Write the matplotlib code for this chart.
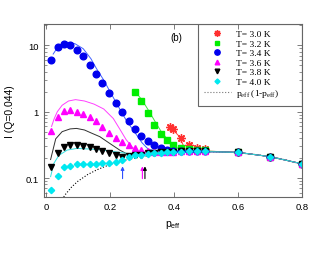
import matplotlib
matplotlib.use("Agg")
import matplotlib.pyplot as plt
from matplotlib.patches import Rectangle

# p_eff grid of the measured points
p = [0.016, 0.036, 0.056, 0.076, 0.096, 0.116, 0.136, 0.156, 0.176, 0.197,
     0.218, 0.238, 0.258, 0.278, 0.298, 0.319, 0.338, 0.358, 0.378, 0.398,
     0.423, 0.448, 0.473, 0.498, 0.6, 0.7, 0.8]

# T = 3.0 K
p_30 = [0.388, 0.398, 0.423, 0.448, 0.473, 0.498, 0.6, 0.7, 0.8]
i_30 = [0.58, 0.55, 0.40, 0.315, 0.285, 0.277, 0.244, 0.21, 0.164]
# T = 3.2 K
p_32 = [0.278, 0.298, 0.319, 0.338, 0.358, 0.378, 0.398, 0.423, 0.448,
        0.473, 0.498, 0.6, 0.7, 0.8]
i_32 = [2.0, 1.46, 0.94, 0.63, 0.46, 0.37, 0.31, 0.285, 0.273, 0.268,
        0.262, 0.244, 0.21, 0.164]
# T = 3.4 K
i_34 = [5.95, 9.4, 10.6, 10.2, 8.4, 6.9, 5.1, 3.7, 2.7, 1.9, 1.37, 1.0,
        0.73, 0.545, 0.434, 0.36, 0.313, 0.286, 0.267, 0.258, 0.255, 0.255,
        0.255, 0.255, 0.244, 0.21, 0.164]
# T = 3.6 K
i_36 = [0.51, 0.84, 1.03, 1.05, 1.0, 0.92, 0.82, 0.72, 0.59, 0.47, 0.40,
        0.35, 0.31, 0.28, 0.264, 0.255, 0.25, 0.25, 0.25, 0.25, 0.252, 0.252,
        0.252, 0.252, 0.244, 0.21, 0.164]
# T = 3.8 K
i_38 = [0.145, 0.235, 0.295, 0.315, 0.315, 0.30, 0.29, 0.27, 0.255, 0.24,
        0.22, 0.21, 0.215, 0.22, 0.225, 0.235, 0.24, 0.245, 0.248, 0.25,
        0.252, 0.252, 0.252, 0.252, 0.244, 0.21, 0.164]
# T = 4.0 K
i_40 = [0.065, 0.107, 0.145, 0.154, 0.161, 0.161, 0.161, 0.161, 0.166, 0.17,
        0.177, 0.19, 0.21, 0.22, 0.225, 0.23, 0.235, 0.24, 0.245, 0.248,
        0.25, 0.252, 0.252, 0.252, 0.244, 0.21, 0.164]

# fitted curves
fx_30 = [0.39, 0.415, 0.435, 0.46, 0.5, 0.6, 0.7, 0.8]
fy_30 = [0.58, 0.43, 0.27, 0.262, 0.255, 0.244, 0.21, 0.164]
fx_32 = [0.279, 0.3, 0.32, 0.34, 0.36, 0.38, 0.4, 0.42, 0.45, 0.5, 0.6, 0.7, 0.8]
fy_32 = [2.0, 1.5, 1.05, 0.72, 0.5, 0.38, 0.3, 0.27, 0.26, 0.255, 0.244, 0.21, 0.164]
fx_34 = [0.022, 0.04, 0.064, 0.09, 0.116, 0.14, 0.157, 0.18, 0.2, 0.23,
         0.25, 0.272, 0.3, 0.32, 0.36, 0.4, 0.5, 0.6, 0.7, 0.8]
fy_34 = [7.4, 10.0, 11.2, 10.6, 8.9, 6.3, 4.5, 3.0, 2.0, 1.1, 0.75, 0.53,
         0.34, 0.27, 0.25, 0.25, 0.25, 0.244, 0.21, 0.164]
fx_36 = [0.017, 0.025, 0.035, 0.05, 0.07, 0.092, 0.12, 0.15, 0.18, 0.21,
         0.23, 0.25, 0.27, 0.29, 0.32, 0.4, 0.5, 0.6, 0.7, 0.8]
fy_36 = [0.6, 0.78, 1.0, 1.25, 1.45, 1.52, 1.45, 1.3, 1.1, 0.79, 0.55, 0.38,
         0.29, 0.25, 0.245, 0.25, 0.25, 0.244, 0.21, 0.164]
fx_38 = [0.014, 0.03, 0.05, 0.075, 0.095, 0.12, 0.14, 0.168, 0.2, 0.23,
         0.25, 0.3, 0.35, 0.4, 0.5, 0.6, 0.7, 0.8]
fy_38 = [0.19, 0.39, 0.50, 0.55, 0.56, 0.53, 0.48, 0.42, 0.33, 0.264,
         0.235, 0.23, 0.24, 0.25, 0.25, 0.244, 0.21, 0.164]
fx_40 = [0.014, 0.024, 0.04, 0.066, 0.097, 0.139, 0.18, 0.23, 0.27, 0.3,
         0.35, 0.4, 0.5, 0.6, 0.7, 0.8]
fy_40 = [0.105, 0.166, 0.22, 0.264, 0.28, 0.273, 0.264, 0.243, 0.23, 0.232,
         0.24, 0.248, 0.25, 0.244, 0.21, 0.164]

# p_eff (1 - p_eff)
px_dot = [0.05, 0.06, 0.08, 0.1, 0.13, 0.16, 0.2, 0.25, 0.3, 0.35, 0.4,
          0.45, 0.5, 0.55, 0.6, 0.65, 0.7, 0.75, 0.8]
py_dot = [0.0475, 0.0564, 0.0736, 0.09, 0.113, 0.134, 0.16, 0.1875, 0.21,
          0.2275, 0.24, 0.2475, 0.25, 0.2475, 0.24, 0.2275, 0.21, 0.1875, 0.16]

# arrows (x position, colour)
arrow_x = [0.239, 0.301, 0.309]
arrow_c = ['#3050ff', '#ff00ff', 'black']

plt.rcParams['font.family'] = ['Liberation Sans', 'DejaVu Sans']

fig = plt.figure(figsize=(3.3, 2.55), dpi=100)
ax = fig.add_axes([0.133, 0.224, 0.782, 0.678])

ax.plot(px_dot, py_dot, ':', color='black', lw=0.8)

ax.plot(fx_30, fy_30, '-', color='#ff4040', lw=0.7)
ax.plot(fx_32, fy_32, '-', color='#40e040', lw=0.7)
ax.plot(fx_34, fy_34, '-', color='#4060ff', lw=0.7)
ax.plot(fx_36, fy_36, '-', color='#ff40ff', lw=0.7)
ax.plot(fx_38, fy_38, '-', color='#303030', lw=0.7)
ax.plot(fx_40, fy_40, '-', color='#30e0e0', lw=0.7)

ax.plot(p_30, i_30, ls='none', marker=(8, 2, 0), ms=6, mew=1.0,
        color='#ff3030', label='T= 3.0 K')
ax.plot(p_32, i_32, ls='none', marker='s', ms=4.2, color='#00ee00',
        label='T= 3.2 K')
ax.plot(p, i_34, ls='none', marker='o', ms=4.8, color='#0000ee',
        label='T= 3.4 K')
ax.plot(p, i_36, ls='none', marker='^', ms=4.2, color='#ff00ff',
        label='T= 3.6 K')
ax.plot(p, i_38, ls='none', marker='v', ms=4.2, color='black',
        label='T= 3.8 K')
ax.plot(p, i_40, ls='none', marker='D', ms=3.2, color='#00e8f0',
        label='T= 4.0 K')
ax.plot([], [], ':', color='#777777', lw=0.8,
        label=r'p$_\mathregular{eff}$ (1-p$_\mathregular{eff}$)')

for x, c in zip(arrow_x, arrow_c):
    ax.annotate('', xy=(x, 0.15), xytext=(x, 0.098),
                arrowprops=dict(arrowstyle='-|>', color=c, lw=0.8,
                                mutation_scale=5, shrinkA=0, shrinkB=0))

ax.set_yscale('log')
ax.set_xlim(-0.007, 0.8)
ax.set_ylim(0.052, 21)
ax.set_xticks([0, 0.2, 0.4, 0.6, 0.8])
ax.set_xticklabels(['0', '0.2', '0.4', '0.6', '0.8'])
ax.set_yticks([0.1, 1, 10])
ax.set_yticklabels(['0.1', '1', '10'])

for s in ax.spines.values():
    s.set_color('#666666')
    s.set_linewidth(0.8)
ax.tick_params(which='both', direction='in', top=True, right=True,
               colors='#666666', labelcolor='black', labelsize=6.8)
ax.tick_params(which='major', length=3.5, width=0.6, pad=4)
ax.tick_params(which='minor', length=2, width=0.5)

ax.set_xlabel(r'p$_\mathregular{eff}$', fontsize=7.5, labelpad=5)
ax.set_ylabel('I (Q=0.044)', fontsize=7.5, labelpad=7)
ax.text(0.514, 0.927, '(b)', transform=ax.transAxes, fontsize=7,
        ha='center', va='center')

# legend box hangs from the upper right corner
ax.add_patch(Rectangle((0.597, 0.528), 0.403, 0.472, transform=ax.transAxes,
                       fill=False, ec='#666666', lw=0.8, zorder=5))
ax.legend(loc='upper left', bbox_to_anchor=(0.597, 1.0), borderaxespad=0,
          frameon=False, prop={'family': 'Liberation Serif', 'size': 6.8},
          handlelength=2.9, handletextpad=0.5, labelspacing=0.1,
          borderpad=0.6, markerscale=0.8)

fig.savefig('out.png', dpi=100)
